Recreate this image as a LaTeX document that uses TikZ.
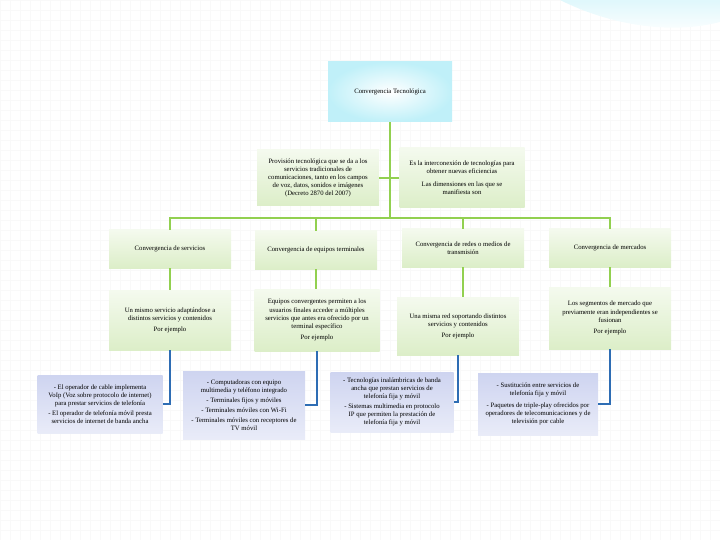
\documentclass[tikz,border=0pt]{standalone}
\usepackage{fontspec}
\setmainfont{Liberation Serif}
\definecolor{linegreen}{RGB}{146,208,80}
\definecolor{lineblue}{RGB}{46,109,180}
\definecolor{boxgreen}{RGB}{220,238,200}
\definecolor{boxblue}{RGB}{206,212,240}
\definecolor{boxcyan}{RGB}{165,234,246}
\begin{document}
\begin{tikzpicture}[x=1pt,y=-1pt,
        every node/.style={align=center, inner sep=2pt,
            font=\fontsize{6.7}{8.1}\selectfont},
        greenbox/.style={minimum width=122pt, minimum height=#1,
            top color=boxgreen!30, bottom color=boxgreen},
        greenbox/.default=38pt,
        bluebox/.style={minimum width=122pt, minimum height=#1,
            top color=boxblue, bottom color=boxblue!45},
        bluebox/.default=60pt,
        greenline/.style={draw=linegreen, line width=2.6pt},
        blueline/.style={draw=lineblue, line width=2.8pt}]

    \useasboundingbox (0,0) rectangle (720,540);
    \draw[gray!5, step=10pt] (0,0) grid (720,540);
    \shade[top color=boxcyan!35, bottom color=white]
        (560,0) .. controls (610,25) and (670,35) .. (720,22) -- (720,0) -- cycle;

    \node[minimum width=124pt, minimum height=60pt,
        inner color=white, outer color=boxcyan!70] (tec) at (390,92)
        {Convergencia Tecnológica};

    \node[greenbox=56pt] (prov) at (318,178)
        {Provisión tecnológica que se da a los\\ servicios tradicionales de\\
         comunicaciones, tanto en los campos\\ de voz, datos, sonidos e imágenes\\
         (Decreto 2870 del 2007)};
    \node[greenbox=60pt, minimum width=125pt] (inter) at (462,178)
        {Es la interconexión de tecnologías para\\ obtener nuevas eficiencias\\[5pt]
         Las dimensiones en las que se\\ manifiesta son};

    \node[greenbox] (serv) at (170,249) {Convergencia de servicios};
    \node[greenbox] (equi) at (316,250) {Convergencia de equipos terminales};
    \node[greenbox] (redes) at (463,248)
        {Convergencia de redes o medios de\\ transmisión};
    \node[greenbox] (merc) at (610,248) {Convergencia de mercados};

    \node[greenbox=60pt] (ej1) at (170,320)
        {Un mismo servicio adaptándose a\\ distintos servicios y contenidos\\[3pt]
         Por ejemplo};
    \node[greenbox=62pt, minimum width=125pt] (ej2) at (317,320)
        {Equipos convergentes permiten a los\\ usuarios finales acceder a múltiples\\
         servicios que antes era ofrecido por un\\ terminal específico\\[3pt]
         Por ejemplo};
    \node[greenbox=58pt] (ej3) at (458,326)
        {Una misma red soportando distintos\\ servicios y contenidos\\[3pt]
         Por ejemplo};
    \node[greenbox=62pt] (ej4) at (610,318)
        {Los segmentos de mercado que\\ previamente eran independientes se\\
         fusionan\\[3pt] Por ejemplo};

    \node[bluebox=58pt, minimum width=125pt] (ex1) at (100,404)
        {- El operador de cable implementa\\ VoIp (Voz sobre protocolo de internet)\\
         para prestar servicios de telefonía\\[2pt]
         - El operador de telefonía móvil presta\\ servicios de internet de banda ancha};
    \node[bluebox=68pt] (ex2) at (244,405)
        {- Computadoras con equipo\\ multimedia y teléfono integrado\\[2pt]
         - Terminales fijos y móviles\\[2pt]
         - Terminales móviles con Wi-Fi\\[2pt]
         - Terminales móviles con receptores de\\ TV móvil};
    \node[bluebox=60pt, minimum width=123pt] (ex3) at (392,402)
        {- Tecnologías inalámbricas de banda\\ ancha que prestan servicios de\\
         telefonía fija y móvil\\[2pt]
         - Sistemas multimedia en protocolo\\ IP que permiten la prestación de\\
         telefonía fija y móvil};
    \node[bluebox=62pt, minimum width=120pt] (ex4) at (538,404)
        {- Sustitución entre servicios de\\ telefonía fija y móvil\\[4pt]
         - Paquetes de triple-play ofrecidos por\\ operadores de telecomunicaciones y de\\
         televisión por cable};

    \coordinate (bus) at (390,218);
    \draw[greenline] (tec.south) -- (bus);
    \draw[greenline] (bus) -| (serv.north);
    \draw[greenline] (bus) -| (equi.north);
    \draw[greenline] (bus) -| (redes.north);
    \draw[greenline] (bus) -| (merc.north);
    \draw[greenline] (prov.east) -- (prov.east -| tec.south);
    \draw[greenline] (inter.west) -- (inter.west -| tec.south);

    \draw[greenline] (serv.south) -- (ej1.north);
    \draw[greenline] (equi.south) -- (equi.south |- ej2.north);
    \draw[greenline] (redes.south) -- (redes.south |- ej3.north);
    \draw[greenline] (merc.south) -- (ej4.north);

    \draw[blueline] (ej1.south) |- (ex1.east);
    \draw[blueline] (ej2.south) |- (ex2.east);
    \draw[blueline] (ej3.south) |- (ex3.east);
    \draw[blueline] (ej4.south) |- (ex4.east);
\end{tikzpicture}
\end{document}
